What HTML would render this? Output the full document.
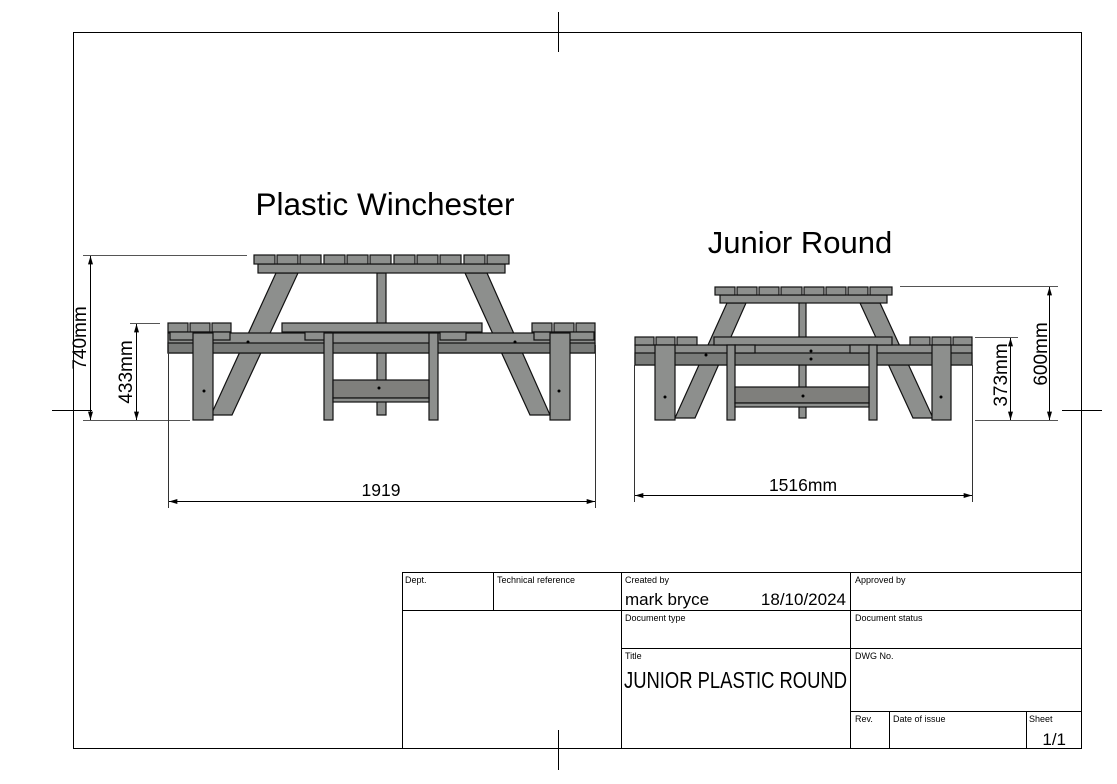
<!DOCTYPE html>
<html><head><meta charset="utf-8"><style>
html,body{margin:0;padding:0;background:#fff}
svg{display:block}
text{font-family:"Liberation Sans",sans-serif;fill:#000}
</style></head><body>
<svg width="1117" height="784" viewBox="0 0 1117 784" xmlns="http://www.w3.org/2000/svg">
<defs>
<marker id="a" viewBox="0 0 10 6" refX="10" refY="3" markerWidth="12" markerHeight="5" orient="auto-start-reverse" markerUnits="userSpaceOnUse"><path d="M0,0L10,3L0,6z" fill="#000"/></marker>
</defs>
<rect x="73.5" y="32.5" width="1008" height="716" fill="none" stroke="#000" stroke-width="1"/>
<g stroke="#000" stroke-width="1">
<line x1="558.5" y1="12" x2="558.5" y2="52"/>
<line x1="558.5" y1="730" x2="558.5" y2="770"/>
<line x1="52" y1="410.5" x2="92" y2="410.5"/>
<line x1="1062" y1="410.5" x2="1102" y2="410.5"/>
</g>

<text x="385" y="215" font-size="31.5" text-anchor="middle">Plastic Winchester</text>
<text x="800" y="253" font-size="31" text-anchor="middle">Junior Round</text>

<g fill="#8d8f8d" stroke="#111" stroke-width="1.2">
<rect x="377" y="273" width="9" height="142"/>
<polygon points="276,273 298,273 232,415 211,415"/>
<polygon points="465,273 487,273 550,415 530,415"/>
<rect x="168" y="333" width="427" height="20"/>
<rect x="168" y="343" width="427" height="10" fill="#7a7c7a"/>
<rect x="168" y="323" width="20" height="9"/><rect x="190" y="323" width="20" height="9"/><rect x="212" y="323" width="19" height="9"/>
<rect x="532" y="323" width="20" height="9"/><rect x="554" y="323" width="20" height="9"/><rect x="576" y="323" width="19" height="9"/>
<rect x="170" y="332" width="60" height="8"/><rect x="534" y="332" width="60" height="8"/>
<rect x="282" y="323" width="200" height="9"/>
<rect x="305" y="332" width="26" height="8"/><rect x="440" y="332" width="26" height="8"/>
<rect x="193" y="333" width="20" height="87"/>
<rect x="550" y="333" width="20" height="87"/>
<rect x="324" y="333" width="9" height="87"/>
<rect x="429" y="333" width="9" height="87"/>
<rect x="333" y="380" width="96" height="18" fill="#7f7f7c"/>
<rect x="333" y="398" width="96" height="4"/>
<rect x="258" y="264" width="247" height="9"/>
<rect x="254" y="255" width="21" height="9"/><rect x="277" y="255" width="21" height="9"/><rect x="300" y="255" width="21" height="9"/><rect x="324" y="255" width="21" height="9"/><rect x="347" y="255" width="21" height="9"/><rect x="370" y="255" width="21" height="9"/><rect x="394" y="255" width="21" height="9"/><rect x="417" y="255" width="21" height="9"/><rect x="440" y="255" width="21" height="9"/><rect x="464" y="255" width="21" height="9"/><rect x="487" y="255" width="22" height="9"/>
</g>
<g fill="#000"><circle cx="248" cy="342" r="1.5"/><circle cx="515" cy="342" r="1.5"/><circle cx="204" cy="391" r="1.5"/><circle cx="559" cy="391" r="1.5"/><circle cx="379" cy="388" r="1.5"/></g>

<g fill="#8d8f8d" stroke="#111" stroke-width="1.2">
<rect x="799" y="295" width="7" height="123"/>
<polygon points="727,303 746,303 695,418 675,418"/>
<polygon points="860,303 880,303 933,418 913,418"/>
<rect x="635" y="345" width="337" height="20"/>
<rect x="635" y="353" width="337" height="12" fill="#7a7c7a"/>
<rect x="635" y="337" width="19" height="8"/><rect x="656" y="337" width="19" height="8"/><rect x="677" y="337" width="20" height="8"/>
<rect x="910" y="337" width="20" height="8"/><rect x="932" y="337" width="19" height="8"/><rect x="953" y="337" width="19" height="8"/>
<rect x="714" y="337" width="178" height="8"/>
<rect x="735" y="345" width="20" height="8"/><rect x="850" y="345" width="20" height="8"/>
<rect x="655" y="345" width="20" height="75"/>
<rect x="932" y="345" width="19" height="75"/>
<rect x="727" y="345" width="8" height="75"/>
<rect x="869" y="345" width="8" height="75"/>
<rect x="735" y="387" width="134" height="16" fill="#7f7f7c"/>
<rect x="735" y="403" width="134" height="4"/>
<rect x="720" y="295" width="167" height="8"/>
<rect x="715" y="287" width="20" height="8"/><rect x="737" y="287" width="20" height="8"/><rect x="759" y="287" width="20" height="8"/><rect x="781" y="287" width="21" height="8"/><rect x="804" y="287" width="20" height="8"/><rect x="826" y="287" width="20" height="8"/><rect x="848" y="287" width="20" height="8"/><rect x="870" y="287" width="22" height="8"/>
</g>
<g fill="#000"><circle cx="706" cy="355" r="1.5"/><circle cx="811" cy="351" r="1.5"/><circle cx="811" cy="359" r="1.5"/><circle cx="665" cy="397" r="1.5"/><circle cx="941" cy="397" r="1.5"/><circle cx="803" cy="396" r="1.5"/></g>

<g stroke="#000" stroke-width="1">
<line x1="83" y1="255.5" x2="247" y2="255.5" stroke="#555"/>
<line x1="130" y1="323.5" x2="160" y2="323.5" stroke="#555"/>
<line x1="83" y1="420.5" x2="190" y2="420.5" stroke="#555"/>
<line x1="90.5" y1="256" x2="90.5" y2="420" marker-start="url(#a)" marker-end="url(#a)"/>
<line x1="136.5" y1="324" x2="136.5" y2="420" marker-start="url(#a)" marker-end="url(#a)"/>
<line x1="168.5" y1="345" x2="168.5" y2="508" stroke="#333"/>
<line x1="595.5" y1="345" x2="595.5" y2="508" stroke="#333"/>
<line x1="169" y1="501.5" x2="595" y2="501.5" marker-start="url(#a)" marker-end="url(#a)"/>
</g>
<text transform="translate(86,338) rotate(-90)" font-size="19" text-anchor="middle">740mm</text>
<text transform="translate(132,372) rotate(-90)" font-size="19" text-anchor="middle">433mm</text>
<text x="381" y="496" font-size="17.5" text-anchor="middle">1919</text>

<g stroke="#000" stroke-width="1">
<line x1="900" y1="286.5" x2="1058" y2="286.5" stroke="#555"/>
<line x1="975" y1="337.5" x2="1018" y2="337.5" stroke="#555"/>
<line x1="975" y1="420.5" x2="1058" y2="420.5" stroke="#555"/>
<line x1="1049.5" y1="287" x2="1049.5" y2="420" marker-start="url(#a)" marker-end="url(#a)"/>
<line x1="1010.5" y1="338" x2="1010.5" y2="420" marker-start="url(#a)" marker-end="url(#a)"/>
<line x1="634.5" y1="365" x2="634.5" y2="502" stroke="#333"/>
<line x1="972.5" y1="365" x2="972.5" y2="502" stroke="#333"/>
<line x1="635" y1="495.5" x2="972" y2="495.5" marker-start="url(#a)" marker-end="url(#a)"/>
</g>
<text transform="translate(1047,354) rotate(-90)" font-size="19" text-anchor="middle">600mm</text>
<text transform="translate(1007,375) rotate(-90)" font-size="19" text-anchor="middle">373mm</text>
<text x="803" y="491" font-size="17.5" text-anchor="middle">1516mm</text>

<g stroke="#000" stroke-width="1" fill="none">
<rect x="402.5" y="572.5" width="679" height="176"/>
<line x1="402" y1="610.5" x2="1082" y2="610.5"/>
<line x1="621" y1="648.5" x2="1082" y2="648.5"/>
<line x1="850" y1="711.5" x2="1082" y2="711.5"/>
<line x1="493.5" y1="572" x2="493.5" y2="610"/>
<line x1="621.5" y1="572" x2="621.5" y2="749"/>
<line x1="850.5" y1="572" x2="850.5" y2="749"/>
<line x1="889.5" y1="711" x2="889.5" y2="749"/>
<line x1="1026.5" y1="711" x2="1026.5" y2="749"/>
</g>
<g font-size="9">
<text x="405" y="583">Dept.</text>
<text x="497" y="583">Technical reference</text>
<text x="625" y="583">Created by</text>
<text x="855" y="583">Approved by</text>
<text x="625" y="621">Document type</text>
<text x="855" y="621">Document status</text>
<text x="625" y="659">Title</text>
<text x="855" y="659">DWG No.</text>
<text x="855" y="722">Rev.</text>
<text x="893" y="722">Date of issue</text>
<text x="1029" y="722">Sheet</text>
</g>
<text x="625" y="605" font-size="17">mark bryce</text>
<text x="846" y="605" font-size="17" text-anchor="end">18/10/2024</text>
<text x="624" y="688" font-size="23" textLength="223" lengthAdjust="spacingAndGlyphs">JUNIOR PLASTIC ROUND</text>
<text x="1066" y="745" font-size="17" text-anchor="end">1/1</text>
</svg>
</body></html>
